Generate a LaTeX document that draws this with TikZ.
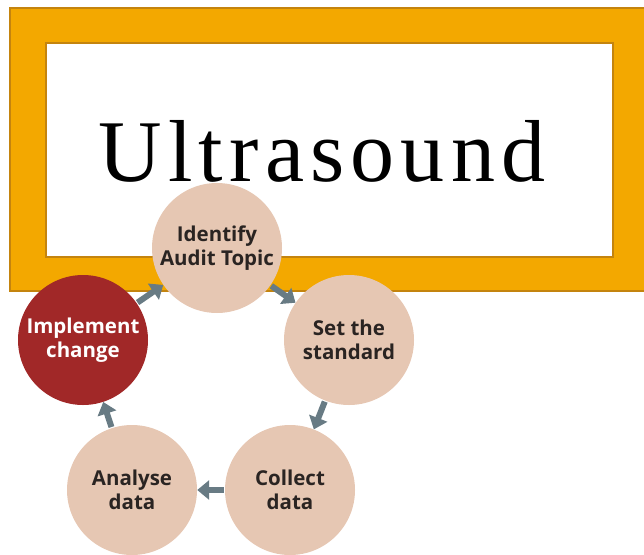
\documentclass[tikz,border=0pt]{standalone}
\usepackage{fontspec}
\setmainfont{Liberation Serif}
\newfontfamily\cyclefont{Open Sans}
\usetikzlibrary{arrows.meta,
	positioning}
\definecolor{frameorange}{HTML}{F3A800}
\definecolor{frameedge}{HTML}{C4840E}
\definecolor{peach}{HTML}{E6C7B3}
\definecolor{actred}{HTML}{A12828}
\definecolor{flowgray}{HTML}{687B84}
\definecolor{textdark}{HTML}{2A2422}
\tikzstyle{stage}=[circle, fill=peach, minimum size=130pt, inner sep=0,
		align=center, text=textdark, font=\cyclefont\bfseries\fontsize{20.5}{24}\selectfont]
\tikzstyle{act}=[stage, fill=actred, text=white]
\tikzstyle{flow}=[draw=flowgray, line width=6pt, shorten <=1pt,
		-{Triangle[width=19pt,length=12pt]}]

\begin{document}
\begin{tikzpicture}[x=1pt, y=-1pt]
            \useasboundingbox (0,0) rectangle (644,554);
            \clip (0,0) rectangle (644,554);
            % title frame
            \draw[frameedge, fill=frameorange, line width=1.2pt] (10,8) rectangle (660,291);
            \draw[frameedge, fill=white, line width=1.2pt] (46,43) rectangle (613,257);
            \node[anchor=base, font=\fontsize{88}{88}\selectfont\addfontfeature{LetterSpace=7}] (title) at (322,181) {Ultrasound};
            % audit cycle
            \node[stage] (topic) at (217,248) {Identify\\Audit Topic};
            \node[stage] (standard) at (349,340) {Set the\\standard};
            \node[stage] (collect) at (290,490) {Collect\\data};
            \node[stage] (analyse) at (132,490) {Analyse\\data};
            \node[act] (change) at (83,340) {Implement\\change};
            \draw[flow] (change) -- (topic);
            \draw[flow] (topic) -- (standard);
            \draw[flow] (standard) -- (collect);
            \draw[flow] (collect) -- (analyse);
            \draw[flow] (analyse) -- (change);
        \end{tikzpicture}
\end{document}
